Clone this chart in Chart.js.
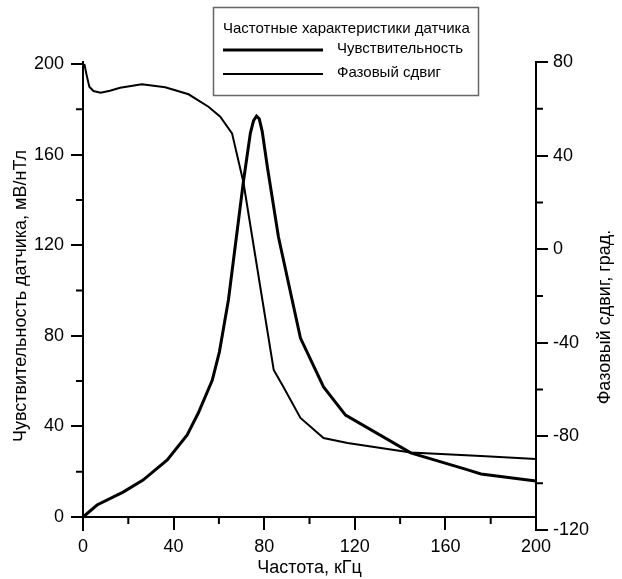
<!DOCTYPE html>
<html lang="ru">
<head>
<meta charset="utf-8">
<title>Частотные характеристики датчика</title>
<script src="https://cdn.jsdelivr.net/npm/chart.js@4.4.1/dist/chart.umd.min.js"></script>
<style>
    html, body { margin: 0; padding: 0; background: #fff; }
    #wrap { position: relative; width: 622px; height: 579px; }
</style>
</head>
<body>
<div id="wrap"><canvas id="sensorChart"></canvas></div>
<script>
// ==== ДАННЫЕ ====
const legendTitle = "Частотные характеристики датчика";
const xTitle = "Частота, кГц";
const leftTitle = "Чувствительность датчика, мВ/нТл";
const rightTitle = "Фазовый сдвиг, град.";

// тики осей (основные с подписями и промежуточные)
const freqTicks = [0, 40, 80, 120, 160, 200];
const freqMinor = [20, 60, 100, 140, 180];
const sensTicks = [0, 40, 80, 120, 160, 200];
const sensMinor = [20, 60, 100, 140, 180];
const phaseTicks = [-120, -80, -40, 0, 40, 80];
const phaseMinor = [-100, -60, -20, 20, 60];

// Чувствительность, мВ/нТл
const sensFreq = [0, 6.2, 17.7, 26.5, 37.2, 46, 50.9, 57.1, 60.2, 64.2, 70.8, 73.9, 75.3, 76.6, 77.8, 79.1, 81.4, 86.3, 96, 106.2, 115.9, 144.7, 169.9, 175.7, 200];
const sensValues = [0, 5.3, 11.0, 16.3, 25.2, 36.2, 45.9, 60.5, 72.8, 95.8, 147.9, 169.5, 175, 177, 175.8, 170.4, 154.5, 123.6, 79, 57.4, 45, 28.3, 20.8, 19, 15.9];

// Фазовый сдвиг, град.
const phaseFreq = [0.6, 1.6, 2.8, 4.6, 7.8, 11.9, 16.4, 26, 36.3, 46.6, 55.4, 60.6, 65.8, 70.8, 79.2, 84.2, 88.5, 96, 106.2, 116.8, 144.7, 175.7, 200];
const phaseValues = [79.2, 74.4, 69.4, 67.6, 66.9, 67.7, 69.0, 70.5, 69.2, 66.2, 60.9, 56.6, 49.5, 28.7, -21.7, -51.6, -58.9, -72.1, -80.7, -82.8, -86.9, -88.4, -89.7];

// ==== СТИЛИ ====
const FONT = "'Liberation Sans', Arial, sans-serif";
const INK = "#000";

const toPoints = (xs, ys) => xs.map((x, i) => ({ x, y: ys[i] }));
const setTicks = (list) => (scale) => {
    scale.ticks = list.map((v) => ({ value: v }));
};

// промежуточные (короткие) деления осей
const minorTicksPlugin = {
    id: "minorTicks",
    afterDraw(chart) {
        const { ctx, chartArea, scales } = chart;
        const y0 = scales.y.getPixelForValue(0);
        ctx.save();
        ctx.strokeStyle = INK;
        ctx.lineWidth = 2;
        ctx.beginPath();
        freqMinor.forEach((v) => {
            const px = scales.x.getPixelForValue(v);
            ctx.moveTo(px, y0);
            ctx.lineTo(px, y0 + 7);
        });
        sensMinor.forEach((v) => {
            const py = scales.y.getPixelForValue(v);
            ctx.moveTo(chartArea.left, py);
            ctx.lineTo(chartArea.left - 7, py);
        });
        phaseMinor.forEach((v) => {
            const py = scales.y1.getPixelForValue(v);
            ctx.moveTo(chartArea.right, py);
            ctx.lineTo(chartArea.right + 7, py);
        });
        ctx.stroke();
        ctx.restore();
    },
};

// рамка-легенда и подпись правой оси
const annotationsPlugin = {
    id: "annotations",
    afterDraw(chart) {
        const { ctx, chartArea } = chart;
        ctx.save();

        // легенда
        ctx.strokeStyle = "#666";
        ctx.lineWidth = 1.5;
        ctx.strokeRect(213.5, 7.5, 265, 88);
        ctx.fillStyle = INK;
        ctx.font = `15px ${FONT}`;
        ctx.textBaseline = "middle";
        ctx.textAlign = "left";
        ctx.fillText(legendTitle, 223, 29);
        chart.data.datasets.forEach((ds, i) => {
            const ly = 50 + i * 24;
            ctx.strokeStyle = ds.borderColor;
            ctx.lineWidth = ds.borderWidth;
            ctx.beginPath();
            ctx.moveTo(223, ly);
            ctx.lineTo(323, ly);
            ctx.stroke();
            ctx.fillText(ds.label, 337, ly - 1);
        });

        // подпись правой оси (снизу вверх)
        ctx.translate(chartArea.right + 69, 317);
        ctx.rotate(-Math.PI / 2);
        ctx.font = `18px ${FONT}`;
        ctx.textAlign = "center";
        ctx.fillText(rightTitle, 0, 0);
        ctx.restore();
    },
};

const axisGrid = {
    drawOnChartArea: false,
    drawTicks: true,
    tickLength: 12,
    color: INK,
    lineWidth: 2,
};
const axisBorder = { color: INK, width: 2 };
const tickFont = { family: FONT, size: 18 };

new Chart(document.getElementById("sensorChart"), {
    type: "line",
    data: {
        datasets: [
            {
                label: "Чувствительность",
                data: toPoints(sensFreq, sensValues),
                yAxisID: "y",
                borderColor: INK,
                borderWidth: 3,
                pointRadius: 0,
                tension: 0,
            },
            {
                label: "Фазовый сдвиг",
                data: toPoints(phaseFreq, phaseValues),
                yAxisID: "y1",
                borderColor: INK,
                borderWidth: 2,
                pointRadius: 0,
                tension: 0,
            },
        ],
    },
    options: {
        responsive: true,
        maintainAspectRatio: false,
        animation: false,
        layout: { padding: { top: 62, bottom: 49, left: 0, right: 0 } },
        plugins: {
            legend: { display: false },
            tooltip: { enabled: false },
        },
        scales: {
            x: {
                type: "linear",
                min: 0,
                max: 200,
                position: { y: 0 },
                afterBuildTicks: setTicks(freqTicks),
                grid: axisGrid,
                border: axisBorder,
                ticks: { color: INK, font: tickFont, padding: 7, maxRotation: 0 },
                title: {
                    display: true,
                    text: xTitle,
                    color: INK,
                    font: tickFont,
                    padding: { top: -7, bottom: 0 },
                },
            },
            y: {
                type: "linear",
                position: "left",
                min: -5.74,
                max: 200.88,
                afterBuildTicks: setTicks(sensTicks),
                afterFit: (s) => { s.width = 83; },
                grid: axisGrid,
                border: axisBorder,
                ticks: { color: INK, font: tickFont, padding: 7 },
                title: {
                    display: true,
                    text: leftTitle,
                    color: INK,
                    font: tickFont,
                    padding: { top: 10, bottom: 0 },
                },
            },
            y1: {
                type: "linear",
                position: "right",
                min: -120,
                max: 80,
                afterBuildTicks: setTicks(phaseTicks),
                afterFit: (s) => { s.width = 86; },
                grid: axisGrid,
                border: axisBorder,
                ticks: { color: INK, font: tickFont, padding: 5 },
            },
        },
    },
    plugins: [minorTicksPlugin, annotationsPlugin],
});
</script>
</body>
</html>
